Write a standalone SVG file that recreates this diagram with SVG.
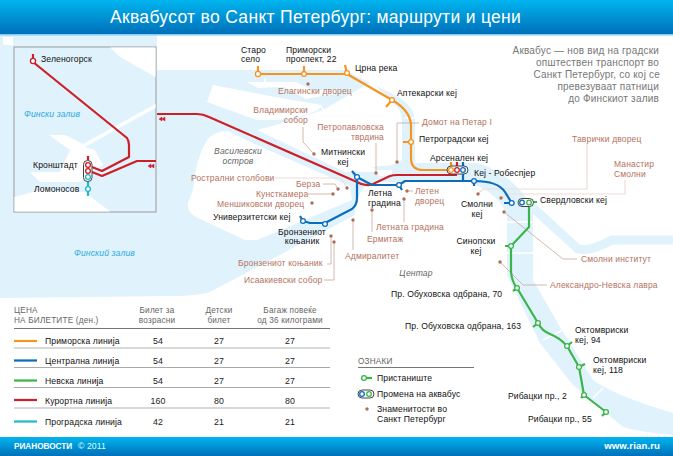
<svg xmlns="http://www.w3.org/2000/svg" width="673" height="456" viewBox="0 0 673 456">
<style>
text{font-family:"Liberation Sans",Arial,sans-serif;font-size:8.600px;letter-spacing:.12px;fill:#111}
.b{fill:#b4725e;font-size:8.500px;letter-spacing:.15px}
.g{fill:#666;font-style:italic}
.t{fill:#666;font-size:8.200px;letter-spacing:.2px}
.m{text-anchor:middle}
.r{text-anchor:end}
.p{fill:#777;font-size:10px;letter-spacing:.2px;text-anchor:end}
.c{font-size:8.800px;text-anchor:middle;fill:#222}
.ln{fill:none;stroke-width:2.200;stroke-linejoin:round;stroke-linecap:butt}
.o{stroke:#f7941d}.u{stroke:#0b6cbb}.e{stroke:#3ab54a}.d{stroke:#cc1f27}.y{stroke:#22b8c8}
.s{fill:#fff;stroke-width:1.300}
.pl{fill:#fff;stroke:#444;stroke-width:1}
.l{fill:none;stroke:#c9a79a;stroke-width:.8}
.l2{fill:none;stroke:#efdcd5;stroke-width:1.200}
.dot{fill:#ab6f5c}
.w{fill:#e0f2fc}
.k{fill:#fff}
.br{stroke:#fff;stroke-width:1.600;fill:none}
</style>
<defs>
<linearGradient id="hg" x1="0" y1="0" x2="0" y2="1"><stop offset="0" stop-color="#00b5ef"/><stop offset="1" stop-color="#0070b9"/></linearGradient>
</defs>
<rect width="673" height="456" fill="#fff"/>
<g id="water">
<path class="w" d="M0 34H157V70H345L400 98Q415 108 415 122V163H477Q510 172 533 207V280L560 327L593 380Q615 396 673 413V435Q640 432 623 427L573 385L540 343L507 275V215Q500 195 470 182H375Q360 185 356 205L355 215L210 292Q195 296 175 296L0 298Z"/>
<path d="M530 205L578 249Q590 252 612 240H673" fill="none" stroke="#e0f2fc" stroke-width="9"/>
<path class="k" d="M3 37H13V45H3Z"/>
<path class="k" d="M193 190Q195 160 207 140Q214 131 228 131L250 142L350 186L352 200L257 240H245L200 219Q186 213 188 203Z"/>
<path class="k" d="M257 130L283 123L323 110L357 90L372 82L398 108Q402 112 402 122V160L392 165L372 167L380 172L345 172Z"/>
<path class="k" d="M213 85L275 97L322 105L318 110L306 115L283 120H257L207 102Z"/>
<path class="k" d="M247 82H296L312 90H342L332 94L306 99L284 87L258 88Z"/>
<path class="k" d="M372 170H392V176H380Z"/>
<path class="br" d="M507 222H533M507 253H533M543 340L563 330M593 398L603 388M265 78V83M283 122V129M320 105L324 111M405 118H415"/>
</g>
<g id="inset">
<rect x="14" y="47" width="142" height="165" fill="#e0f2fc" stroke="#999" stroke-width="1"/>
<path class="k" d="M110 47.500H155.500V77L120 57Z"/>
<path class="k" d="M14.500 211.500V197L40 190L85 192L95 200L110 211.500Z"/>
<path class="k" d="M49 135H65L83 144L155.500 104V108L85 147L95 150L103 165L90 172L80 182L40 182L30 172L60 172L70 150Z"/>
</g>
<g id="connectors">
<path class="l2" d="M275 178H341L347 188"/>
<path class="l2" d="M587 143V189H483L478 194"/>
<path class="l2" d="M625 180V194H507L501 198"/>
<path class="l" d="M303 127V142L314 154"/>
<path class="l" d="M376 143V173"/>
<path class="l" d="M419 123H397V162"/>
<path class="l" d="M577 259H563L504 212"/>
<path class="l" d="M547 285H523L500 262"/>
<path class="l" d="M413 191H407"/>
<path class="l" d="M404 222V199"/>
<path class="l" d="M372 232V210"/>
<path class="l" d="M353 250V220"/>
<path class="l" d="M323 184H335L338 189"/>
<path class="l" d="M308 194H333"/>
<path class="l" d="M327 264H331V236"/>
<path class="l" d="M324 280H334V242"/>
<path class="ln o" d="M258 74H347L392 100Q411 111 411 126V158Q411 170 423 170H448M258 74V66M304 74V66M347 73L345 65M392 100L386 107M411 142H403M451 166V162"/>
<path class="ln d" d="M33 62L127 138Q129 141 129 145V157L102 171L92 167M156 161H137L102 176L92 172M33 60V54"/>
<path class="ln d" d="M157 114H197Q203 114 209 117L357 182Q365 187 373 184L390 176Q393 175 397 175H457M457 166V162M88 160V156"/>
<path class="ln u" d="M300 216L303 221L310 223H325L352 209Q357 205 357 198V177L352 171M357 177L372 185H399L402 190M399 185L405 181H474Q498 181 505 192L511.700 203H504M463 181V170M463 166V162M474 181V186"/>
<path class="ln e" d="M529 202V227L511 246H505M511 246V272Q512 282 517 288L513 291M517 288L538 323L533 327M538 323Q542 331 550 334Q560 338 567 346L572 342M567 346L579 367L585 364M579 367L584 395L581 398M584 395L606 412L602 416M533 202H537"/>
<path class="ln y" d="M88 177V196"/>
<path d="M162 117V121L159 119ZM165 117V121L162 119ZM151 164V168L148 166ZM154 164V168L151 166Z" fill="#cc1f27" stroke="#cc1f27" stroke-width=".5"/>
</g>
<g id="n-zelenogorsk"><circle class="s d" cx="33" cy="61" r="2.600"/><text x="41" y="62">Зеленогорск</text></g>
<g id="n-kronstadt"><rect class="pl" x="83.500" y="160.500" width="8.500" height="21" rx="4"/><circle class="s d" cx="88" cy="165" r="2.400"/><circle class="s d" cx="88" cy="171" r="2.400"/><circle class="s y" cx="88" cy="177" r="2.400"/><text x="33" y="168">Кронштадт</text></g>
<g id="n-lomonosov"><circle class="s y" cx="88" cy="189" r="2.400"/><text x="34" y="192">Ломоносов</text></g>
<g id="n-staro"><circle class="s o" cx="258" cy="74" r="2.600"/><text x="241" y="53">Старо</text><text x="241" y="62">село</text></g>
<g id="n-primorski"><circle class="s o" cx="304" cy="74" r="2.400"/><text x="286" y="53">Приморски</text><text x="286" y="62">проспект, 22</text></g>
<g id="n-crna"><circle class="s o" cx="347" cy="73" r="2.400"/><text x="355" y="71">Црна река</text></g>
<g id="n-aptekarski"><circle class="s o" cx="392" cy="100" r="2.400"/><text x="397" y="96">Аптекарски кеј</text></g>
<g id="n-petrogradski"><circle class="s o" cx="411" cy="142" r="2.400"/><text x="419" y="142">Петроградски кеј</text></g>
<g id="n-arsenalen"><rect class="pl" x="447" y="166" width="21" height="8" rx="4"/><circle class="s o" cx="451" cy="170" r="2.300"/><circle class="s d" cx="457" cy="170" r="2.300"/><circle class="s u" cx="463" cy="170" r="2.300"/><text x="430" y="161">Арсенален кеј</text></g>
<g id="n-robespjer"><circle class="s u" cx="474" cy="181" r="2.400"/><text x="474" y="176">Кеј - Робеспјер</text></g>
<g id="n-smolni"><circle class="s u" cx="511.700" cy="203" r="2.400"/><text class="m" x="477" y="207">Смолни</text><text class="m" x="477" y="217">кеј</text></g>
<g id="n-sverdlovski"><rect class="pl" x="518" y="198.500" width="15.500" height="8" rx="4"/><circle class="s u" cx="522" cy="202.500" r="2.300"/><circle class="s e" cx="529" cy="202.500" r="2.300"/><text x="540" y="203">Свердловски кеј</text></g>
<g id="n-sinopski"><circle class="s e" cx="511" cy="246" r="2.400"/><text class="m" x="476" y="244">Синопски</text><text class="m" x="476" y="254">кеј</text></g>
<g id="n-obuhovska70"><circle class="s e" cx="517" cy="288" r="2.400"/><text x="391" y="297">Пр. Обуховска одбрана, 70</text></g>
<g id="n-obuhovska163"><circle class="s e" cx="538" cy="323" r="2.400"/><text x="405" y="329">Пр. Обуховска одбрана, 163</text></g>
<g id="n-okt94"><circle class="s e" cx="567" cy="346" r="2.400"/><text x="575" y="333">Октомвриски</text><text x="575" y="343">кеј, 94</text></g>
<g id="n-okt118"><circle class="s e" cx="579" cy="367" r="2.400"/><text x="593" y="363">Октомвриски</text><text x="593" y="373">кеј, 118</text></g>
<g id="n-ribacki2"><circle class="s e" cx="584" cy="395" r="2.400"/><text x="508" y="399">Рибацки пр., 2</text></g>
<g id="n-ribacki55"><circle class="s e" cx="606" cy="412" r="2.400"/><text x="528" y="422">Рибацки пр., 55</text></g>
<g id="n-letna"><circle class="s u" cx="399" cy="185" r="2.400"/><text x="368" y="196">Летна</text><text x="368" y="206">градина</text></g>
<g id="n-mitninski"><circle class="s u" cx="357" cy="177" r="2.400"/><text class="m" x="343" y="155">Митнински</text><text class="m" x="343" y="165">кеј</text></g>
<g id="n-univerz"><circle class="s u" cx="303" cy="221" r="2.400"/><text x="213" y="220">Универзитетски кеј</text></g>
<g id="n-bronzen"><circle class="s u" cx="325" cy="224" r="2.400"/><text class="m" x="302" y="235">Бронзениот</text><text class="m" x="302" y="244">коњаник</text></g>
<g id="landmarks">
<circle class="dot" cx="308" cy="84" r="1.700"/><text class="b" x="278" y="94">Елагински дворец</text>
<circle class="dot" cx="314" cy="154" r="1.700"/><text class="b r" x="308" y="113">Владимирски</text><text class="b r" x="308" y="123">собор</text>
<circle class="dot" cx="376" cy="173" r="1.700"/><text class="b r" x="384" y="130">Петропавловска</text><text class="b r" x="384" y="140">тврдина</text>
<circle class="dot" cx="397" cy="162" r="1.700"/><text class="b" x="422" y="125">Домот на Петар I</text>
<circle class="dot" cx="478" cy="194" r="1.700"/><text class="b" x="572" y="142">Таврички дворец</text>
<circle class="dot" cx="501" cy="198" r="1.700"/><text class="b" x="614" y="167">Манастир</text><text class="b" x="614" y="177">Смолни</text>
<circle class="dot" cx="504" cy="212" r="1.700"/><text class="b" x="581" y="262">Смолни институт</text>
<circle class="dot" cx="500" cy="262" r="1.700"/><text class="b" x="550" y="288">Александро-Невска лавра</text>
<circle class="dot" cx="407" cy="191" r="1.700"/><text class="b" x="415" y="194">Летен</text><text class="b" x="415" y="204">дворец</text>
<circle class="dot" cx="404" cy="199" r="1.700"/><text class="b" x="376" y="230">Летната градина</text>
<circle class="dot" cx="372" cy="210" r="1.700"/><text class="b" x="367" y="242">Ермитаж</text>
<circle class="dot" cx="353" cy="220" r="1.700"/><text class="b" x="345" y="259">Адмиралитет</text>
<circle class="dot" cx="347" cy="188" r="1.700"/><text class="b" x="191" y="181">Рострални столбови</text>
<circle class="dot" cx="338" cy="189" r="1.700"/><text class="b" x="296" y="187">Берза</text>
<circle class="dot" cx="333" cy="194" r="1.700"/><text class="b" x="256" y="196.500">Кунсткамера</text>
<circle class="dot" cx="312" cy="203" r="1.700"/><text class="b" x="217" y="207">Меншиковски дворец</text>
<circle class="dot" cx="331" cy="236" r="1.700"/><text class="b" x="238" y="266">Бронзениот коњаник</text>
<circle class="dot" cx="334" cy="242" r="1.700"/><text class="b" x="244" y="283">Исаакиевски собор</text>
</g>
<g id="place-labels">
<text class="g m" x="238" y="154">Василевски</text><text class="g m" x="238" y="164">остров</text>
<text class="g m" x="416" y="276">Центар</text>
<text x="24" y="117" style="fill:#29abe2;font-style:italic">Фински залив</text>
<text x="74" y="256" style="fill:#29abe2;font-style:italic">Финский залив</text>
</g>
<g id="intro">
<text class="p" x="659" y="53.500">Аквабус — нов вид на градски</text>
<text class="p" x="659" y="65.500">општествен транспорт во</text>
<text class="p" x="660" y="77.500">Санкт Петербург, со кој се</text>
<text class="p" x="659" y="89.500">превезуваат патници</text>
<text class="p" x="659" y="101.500">до Финскиот залив</text>
</g>
<g id="table">
<text class="t" x="14" y="313">ЦЕНА</text><text class="t" x="14" y="323">НА БИЛЕТИТЕ (ден.)</text>
<text class="t m" x="157" y="313">Билет за</text><text class="t m" x="157" y="323">возрасни</text>
<text class="t m" x="219" y="313">Детски</text><text class="t m" x="219" y="323">билет</text>
<text class="t m" x="290" y="313">Багаж повеќе</text><text class="t m" x="290" y="323">од 36 килограми</text>
<path d="M14 328.500H330" stroke="#777" stroke-width="1"/>
<path d="M14 348H330M14 408H330" stroke="#ccc" stroke-width="1.500"/>
<path d="M14 367.500H330M14 387.500H330" stroke="#aaa" stroke-width="1"/>
<path class="ln o" d="M14 341H37"/><path class="ln u" d="M14 360.500H37"/><path class="ln e" d="M14 380.500H37"/><path class="ln d" d="M14 400H37"/><path class="ln y" d="M14 421.500H37"/>
<text x="45" y="344">Приморска линија</text><text class="c" x="158" y="344">54</text><text class="c" x="219" y="344">27</text><text class="c" x="290" y="344">27</text>
<text x="45" y="364">Централна линија</text><text class="c" x="158" y="364">54</text><text class="c" x="219" y="364">27</text><text class="c" x="290" y="364">27</text>
<text x="45" y="384">Невска линија</text><text class="c" x="158" y="384">54</text><text class="c" x="219" y="384">27</text><text class="c" x="290" y="384">27</text>
<text x="45" y="404">Курортна линија</text><text class="c" x="158" y="404">160</text><text class="c" x="219" y="404">80</text><text class="c" x="290" y="404">80</text>
<text x="45" y="425">Проградска линија</text><text class="c" x="158" y="425">42</text><text class="c" x="219" y="425">21</text><text class="c" x="290" y="425">21</text>
</g>
<g id="legend">
<text class="t" x="358" y="364">ОЗНАКИ</text>
<path d="M358 367.500H474" stroke="#777"/>
<path class="ln e" d="M364 378H372"/><circle class="s e" cx="364" cy="378" r="2.400"/><text x="377" y="381">Пристаниште</text>
<rect class="pl" x="358" y="390" width="16" height="8" rx="4"/><circle class="s u" cx="362" cy="394" r="2.300"/><circle class="s e" cx="369" cy="394" r="2.300"/><text x="377" y="397">Промена на аквабус</text>
<circle class="dot" cx="367" cy="409" r="1.700"/><text x="377" y="412">Знаменитости во</text><text x="377" y="422">Санкт Петербург</text>
</g>
<g id="header">
<rect width="673" height="34" fill="url(#hg)"/>
<rect y="34" width="673" height="1.500" fill="#7fcdf0"/>
<text x="110" y="23" textLength="411" style="fill:#fff;font-size:17.500px">Аквабусот во Санкт Петербург: маршрути и цени</text>
</g>
<g id="footer">
<rect y="437" width="673" height="19" fill="url(#hg)"/>
<text x="14" y="449" style="fill:#fff;font-weight:bold;font-size:8.200px;letter-spacing:0">РИАНОВОСТИ</text>
<text x="78" y="449" style="fill:#dff;font-size:8.600px">© 2011</text>
<text class="r" x="660" y="449" style="fill:#fff;font-weight:bold;font-size:9.600px">www.rian.ru</text>
</g>
</svg>
